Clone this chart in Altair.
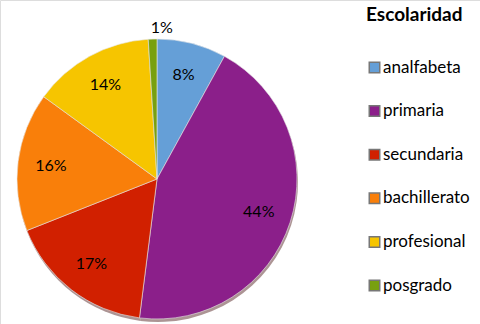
import altair as alt
import pandas as pd

categories = ["analfabeta", "primaria", "secundaria", "bachillerato", "profesional", "posgrado"]
values = [8, 44, 17, 16, 14, 1]
colors = ["#659FD7", "#8B1F8A", "#D12000", "#F97F0A", "#F6C500", "#78A010"]

df = pd.DataFrame({"cat": categories, "val": values, "idx": list(range(len(categories)))})

CX, CY, R = 157, 179, 140

base = alt.Chart(df).encode(
    theta=alt.Theta("val:Q", stack=True),
    order=alt.Order("idx:Q"),
)

shadow = base.mark_arc(radius=R, color="#5a2a2a", opacity=0.5).encode(
    x=alt.value(CX + 1), y=alt.value(CY + 3)
)

pie = base.mark_arc(radius=R, stroke="#e8e8e8", strokeWidth=0.6).encode(
    x=alt.value(CX), y=alt.value(CY),
    color=alt.Color(
        "cat:N",
        scale=alt.Scale(domain=categories, range=colors),
        sort=categories,
        legend=alt.Legend(
            title="Escolaridad",
            orient="none",
            legendX=366,
            legendY=6,
            titleFont="Lato",
            titleFontSize=19,
            titleFontWeight="bold",
            titleColor="#000",
            titleAnchor="start",
            titlePadding=34,
            labelFont="Lato",
            labelFontSize=17,
            labelColor="#000",
            labelOffset=0,
            symbolType="square",
            symbolSize=110,
            symbolStrokeWidth=1.5,
            symbolStrokeColor="#777",
            symbolOpacity=1,
            rowPadding=25.6,
        ),
    ),
)

labels = base.mark_text(font="Lato", fontSize=16, color="#000").transform_calculate(
    lbl="datum.val + '%'",
    rr="datum.val < 5 ? 151 : 107",
).encode(
    x=alt.value(CX), y=alt.value(CY),
    radius=alt.Radius("rr:Q", scale=None),
    text="lbl:N",
)

chart = alt.layer(shadow, pie, labels).properties(
    width=480, height=324,
    autosize=alt.AutoSizeParams(type="none"),
    padding=0,
).configure_view(stroke=None).configure(background="white")

chart.save("out.html", embed_options={"renderer": "svg", "actions": False})
